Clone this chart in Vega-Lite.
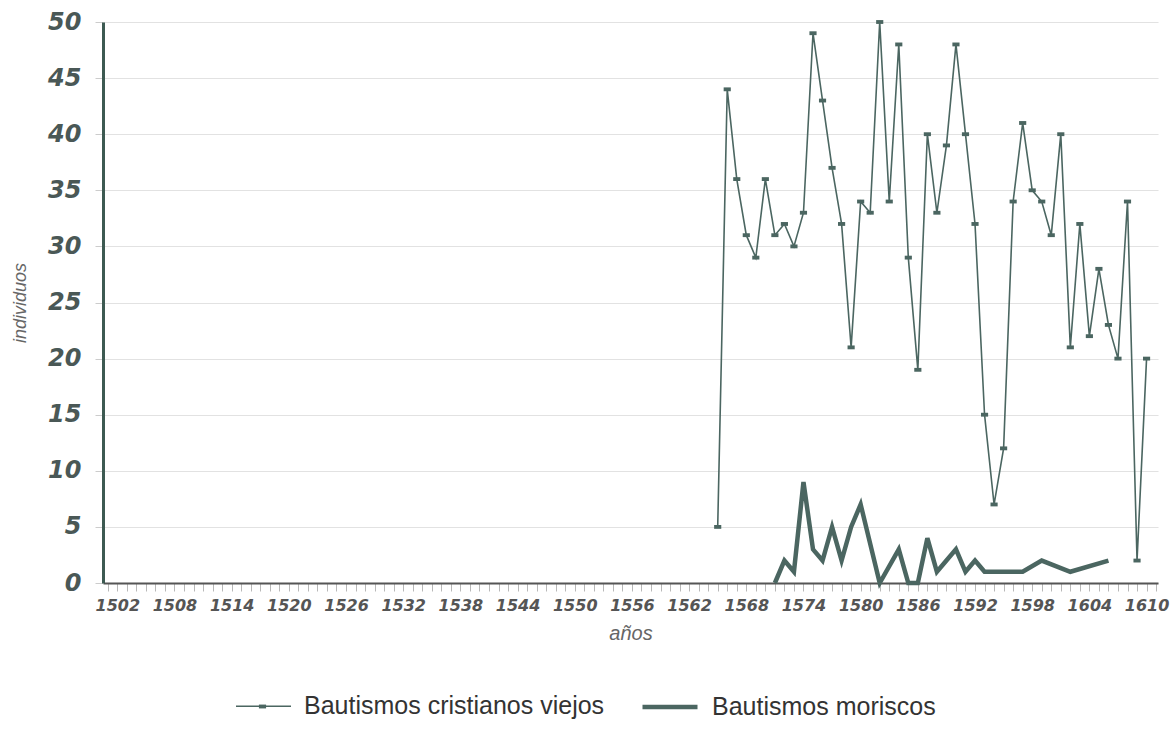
{
  "$schema": "https://vega.github.io/schema/vega-lite/v6.json",
  "autosize": "none",
  "padding": {"left": 103, "top": 22, "right": 14, "bottom": 162},
  "width": 1055,
  "height": 561,
  "background": "white",
  "config": {
    "view": {"stroke": null},
    "font": "Liberation Sans"
  },
  "data": {
    "values": [
      {"serie": "Bautismos cristianos viejos", "year": 1565, "v": 5},
      {"serie": "Bautismos cristianos viejos", "year": 1566, "v": 44},
      {"serie": "Bautismos cristianos viejos", "year": 1567, "v": 36},
      {"serie": "Bautismos cristianos viejos", "year": 1568, "v": 31},
      {"serie": "Bautismos cristianos viejos", "year": 1569, "v": 29},
      {"serie": "Bautismos cristianos viejos", "year": 1570, "v": 36},
      {"serie": "Bautismos cristianos viejos", "year": 1571, "v": 31},
      {"serie": "Bautismos cristianos viejos", "year": 1572, "v": 32},
      {"serie": "Bautismos cristianos viejos", "year": 1573, "v": 30},
      {"serie": "Bautismos cristianos viejos", "year": 1574, "v": 33},
      {"serie": "Bautismos cristianos viejos", "year": 1575, "v": 49},
      {"serie": "Bautismos cristianos viejos", "year": 1576, "v": 43},
      {"serie": "Bautismos cristianos viejos", "year": 1577, "v": 37},
      {"serie": "Bautismos cristianos viejos", "year": 1578, "v": 32},
      {"serie": "Bautismos cristianos viejos", "year": 1579, "v": 21},
      {"serie": "Bautismos cristianos viejos", "year": 1580, "v": 34},
      {"serie": "Bautismos cristianos viejos", "year": 1581, "v": 33},
      {"serie": "Bautismos cristianos viejos", "year": 1582, "v": 50},
      {"serie": "Bautismos cristianos viejos", "year": 1583, "v": 34},
      {"serie": "Bautismos cristianos viejos", "year": 1584, "v": 48},
      {"serie": "Bautismos cristianos viejos", "year": 1585, "v": 29},
      {"serie": "Bautismos cristianos viejos", "year": 1586, "v": 19},
      {"serie": "Bautismos cristianos viejos", "year": 1587, "v": 40},
      {"serie": "Bautismos cristianos viejos", "year": 1588, "v": 33},
      {"serie": "Bautismos cristianos viejos", "year": 1589, "v": 39},
      {"serie": "Bautismos cristianos viejos", "year": 1590, "v": 48},
      {"serie": "Bautismos cristianos viejos", "year": 1591, "v": 40},
      {"serie": "Bautismos cristianos viejos", "year": 1592, "v": 32},
      {"serie": "Bautismos cristianos viejos", "year": 1593, "v": 15},
      {"serie": "Bautismos cristianos viejos", "year": 1594, "v": 7},
      {"serie": "Bautismos cristianos viejos", "year": 1595, "v": 12},
      {"serie": "Bautismos cristianos viejos", "year": 1596, "v": 34},
      {"serie": "Bautismos cristianos viejos", "year": 1597, "v": 41},
      {"serie": "Bautismos cristianos viejos", "year": 1598, "v": 35},
      {"serie": "Bautismos cristianos viejos", "year": 1599, "v": 34},
      {"serie": "Bautismos cristianos viejos", "year": 1600, "v": 31},
      {"serie": "Bautismos cristianos viejos", "year": 1601, "v": 40},
      {"serie": "Bautismos cristianos viejos", "year": 1602, "v": 21},
      {"serie": "Bautismos cristianos viejos", "year": 1603, "v": 32},
      {"serie": "Bautismos cristianos viejos", "year": 1604, "v": 22},
      {"serie": "Bautismos cristianos viejos", "year": 1605, "v": 28},
      {"serie": "Bautismos cristianos viejos", "year": 1606, "v": 23},
      {"serie": "Bautismos cristianos viejos", "year": 1607, "v": 20},
      {"serie": "Bautismos cristianos viejos", "year": 1608, "v": 34},
      {"serie": "Bautismos cristianos viejos", "year": 1609, "v": 2},
      {"serie": "Bautismos cristianos viejos", "year": 1610, "v": 20},
      {"serie": "Bautismos moriscos", "year": 1571, "v": 0},
      {"serie": "Bautismos moriscos", "year": 1572, "v": 2},
      {"serie": "Bautismos moriscos", "year": 1573, "v": 1},
      {"serie": "Bautismos moriscos", "year": 1574, "v": 9},
      {"serie": "Bautismos moriscos", "year": 1575, "v": 3},
      {"serie": "Bautismos moriscos", "year": 1576, "v": 2},
      {"serie": "Bautismos moriscos", "year": 1577, "v": 5},
      {"serie": "Bautismos moriscos", "year": 1578, "v": 2},
      {"serie": "Bautismos moriscos", "year": 1579, "v": 5},
      {"serie": "Bautismos moriscos", "year": 1580, "v": 7},
      {"serie": "Bautismos moriscos", "year": 1582, "v": 0},
      {"serie": "Bautismos moriscos", "year": 1584, "v": 3},
      {"serie": "Bautismos moriscos", "year": 1585, "v": 0},
      {"serie": "Bautismos moriscos", "year": 1586, "v": 0},
      {"serie": "Bautismos moriscos", "year": 1587, "v": 4},
      {"serie": "Bautismos moriscos", "year": 1588, "v": 1},
      {"serie": "Bautismos moriscos", "year": 1589, "v": 2},
      {"serie": "Bautismos moriscos", "year": 1590, "v": 3},
      {"serie": "Bautismos moriscos", "year": 1591, "v": 1},
      {"serie": "Bautismos moriscos", "year": 1592, "v": 2},
      {"serie": "Bautismos moriscos", "year": 1593, "v": 1},
      {"serie": "Bautismos moriscos", "year": 1597, "v": 1},
      {"serie": "Bautismos moriscos", "year": 1599, "v": 2},
      {"serie": "Bautismos moriscos", "year": 1602, "v": 1},
      {"serie": "Bautismos moriscos", "year": 1606, "v": 2}
    ]
  },
  "encoding": {
    "x": {
      "field": "year", "type": "quantitative",
      "scale": {"domain": [1500.5, 1611.2], "nice": false, "zero": false},
      "axis": {
        "values": [1501,1502,1503,1504,1505,1506,1507,1508,1509,1510,1511,1512,1513,1514,1515,1516,1517,1518,1519,1520,1521,1522,1523,1524,1525,1526,1527,1528,1529,1530,1531,1532,1533,1534,1535,1536,1537,1538,1539,1540,1541,1542,1543,1544,1545,1546,1547,1548,1549,1550,1551,1552,1553,1554,1555,1556,1557,1558,1559,1560,1561,1562,1563,1564,1565,1566,1567,1568,1569,1570,1571,1572,1573,1574,1575,1576,1577,1578,1579,1580,1581,1582,1583,1584,1585,1586,1587,1588,1589,1590,1591,1592,1593,1594,1595,1596,1597,1598,1599,1600,1601,1602,1603,1604,1605,1606,1607,1608,1609,1610,1611],
        "labelExpr": "(datum.value - 1502) % 6 == 0 ? format(datum.value, 'd') : ''",
        "labelOverlap": false,
        "labelBound": false,
        "labelFlush": false,
        "labelFont": "DejaVu Sans",
        "labelFontStyle": "italic",
        "labelFontWeight": "bold",
        "labelFontSize": 16,
        "labelColor": "#555555",
        "labelPadding": 6,
        "labelDx": 3,
        "tickColor": "#b8b8b8",
        "tickSize": 8,
        "tickWidth": 1,
        "domainColor": "#555555",
        "domainWidth": 2,
        "grid": false,
        "title": "años",
        "titleFont": "Liberation Sans",
        "titleFontStyle": "italic",
        "titleFontWeight": "normal",
        "titleFontSize": 20,
        "titleColor": "#666666",
        "titlePadding": 10
      }
    },
    "y": {
      "field": "v", "type": "quantitative",
      "scale": {"domain": [0, 50], "nice": false},
      "axis": {
        "values": [0,5,10,15,20,25,30,35,40,45,50],
        "labelFont": "DejaVu Sans",
        "labelFontStyle": "italic",
        "labelFontWeight": "bold",
        "labelFontSize": 24,
        "labelColor": "#4a5856",
        "labelPadding": 14,
        "tickColor": "#cccccc",
        "tickSize": 8,
        "domainColor": "#3d5a52",
        "domainWidth": 3,
        "grid": true,
        "gridColor": "#e2e2e2",
        "gridWidth": 1.2,
        "title": "individuos",
        "titleFont": "Liberation Sans",
        "titleFontStyle": "italic",
        "titleFontWeight": "normal",
        "titleFontSize": 18,
        "titleColor": "#666666",
        "titlePadding": 18
      }
    }
  },
  "layer": [
    {
      "mark": {"type": "line", "color": "#4b6661", "strokeJoin": "miter"},
      "encoding": {
        "detail": {"field": "serie"},
        "strokeWidth": {
          "field": "serie", "type": "nominal",
          "scale": {"domain": ["Bautismos cristianos viejos", "Bautismos moriscos"], "range": [1.6, 4.5]},
          "legend": {
            "orient": "none",
            "legendX": 132,
            "legendY": 655,
            "padding": 0,
            "direction": "horizontal",
            "title": null,
            "symbolType": "stroke",
            "symbolSize": 3025,
            "symbolStrokeColor": "#4b6661",
            "labelFont": "Liberation Sans",
            "labelFontSize": 25,
            "labelColor": "#333333",
            "labelLimit": 0,
            "labelOffset": 12,
            "columnPadding": 28,
            "symbolOffset": 0
          }
        }
      }
    },
    {
      "transform": [{"filter": "datum.serie == 'Bautismos cristianos viejos'"}],
      "mark": {"type": "point", "filled": true, "color": "#4b6661", "opacity": 1, "size": 3025},
      "encoding": {
        "shape": {
          "field": "serie", "type": "nominal",
          "scale": {"domain": ["Bautismos cristianos viejos"], "range": ["M-0.13,-0.07L0.13,-0.07L0.13,0.07L-0.13,0.07Z"]},
          "legend": {
            "orient": "none",
            "legendX": 132,
            "legendY": 657,
            "padding": 0,
            "direction": "horizontal",
            "title": null,
            "symbolSize": 3025,
            "symbolFillColor": "#4b6661",
            "symbolStrokeWidth": 0,
            "symbolOffset": 0,
            "labelFont": "Liberation Sans",
            "labelFontSize": 25,
            "labelOpacity": 0,
            "labelLimit": 0,
            "labelOffset": 12
          }
        }
      }
    }
  ]
}
